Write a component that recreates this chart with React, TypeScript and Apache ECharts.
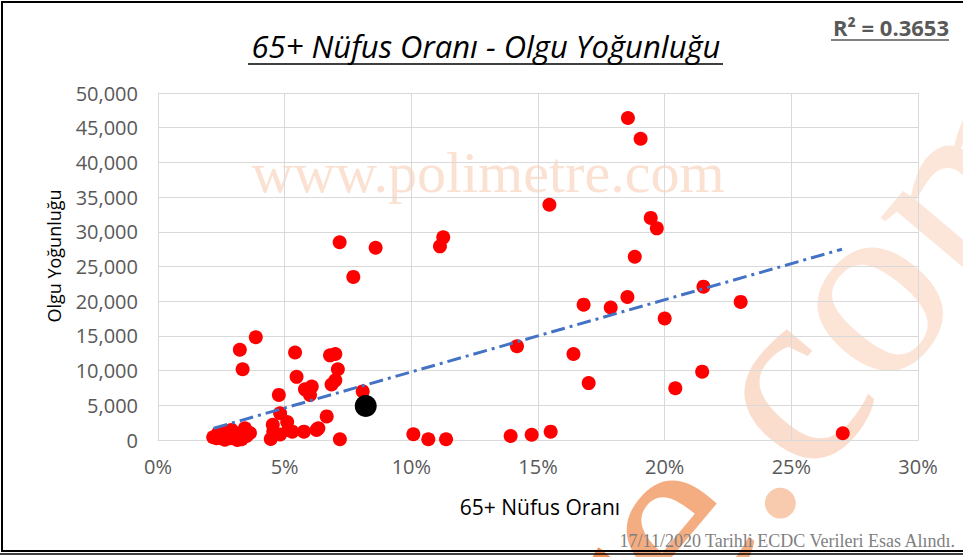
import React, { useEffect, useRef } from "react";
import * as echarts from "echarts";

// 65+ population share (%) of each country
const pointsX = [
  18.55, 19.05, 15.45, 19.45, 19.69, 18.82, 11.26, 11.13, 7.17, 8.59, 7.71,
  3.23, 3.86, 5.41, 6.79, 7.0, 17.87, 18.53, 16.8, 20.0, 21.53, 23.0, 21.48,
  20.42, 27.03, 16.4, 17.0, 14.17, 10.08, 10.67, 11.37, 13.92, 14.75, 15.5,
  3.34, 5.47, 7.1, 7.0, 6.85, 5.8, 6.07, 6.0, 8.08, 4.77, 4.82, 5.1, 5.15,
  4.53, 4.55, 4.45, 4.82, 5.3, 5.76, 6.26, 6.66, 6.33, 7.18,
  2.18, 2.38, 2.5, 2.71, 2.84, 3.04, 3.13, 3.24, 3.43, 3.5, 3.63, 2.9, 2.31,
  3.3, 2.64,
];
// case density of each country
const pointsY = [
  46400, 43400, 33900, 32000, 30500, 26400, 29200, 27900, 28500, 27700, 23500,
  13000, 14800, 12600, 12200, 12400, 19100, 20600, 19500, 17500, 22100, 19900,
  9850, 7450, 970, 12400, 8200, 13500, 820, 100, 100, 580, 760, 1200,
  10200, 9100, 10200, 8600, 8000, 7300, 7700, 6500, 7000, 6500, 3850, 2600,
  1450, 2200, 1200, 150, 800, 1200, 1200, 1450, 3400, 1700, 100,
  400, 1000, 250, 1200, 250, 1000, 0, 700, 1700, 600, 1000, 1450, 250,
  100, 50,
];
// highlighted country (Türkiye)
const highlightX = [8.2];
const highlightY = [4900];
// linear trend line
const trendX = [2.2, 27.0];
const trendSlope = 1040;
const trendIntercept = -590;
const rSquared = "0.3653";

const titleText = "65+ Nüfus Oranı - Olgu Yoğunluğu";
const xName = "65+ Nüfus Oranı";
const yName = "Olgu Yoğunluğu";
const footerText = "17/11/2020 Tarihli ECDC Verileri Esas Alındı.";
const watermark = "www.polimetre.com";
const bigWatermarkLetters = ["t", "r", "e", ".", "c", "o", "m"];

const FONT = "'Open Sans', 'Noto Sans', sans-serif";

// big diagonal watermark: letter centre anchors and tints (style only)
const bigLetterPos = [
  [525, 689, "rgba(238,125,60,0.85)"],
  [571, 634, "rgba(238,125,60,0.85)"],
  [627, 567, "rgba(240,140,80,0.72)"],
  [701, 479, "rgba(243,160,110,0.55)"],
  [743, 429, "rgba(245,175,135,0.42)"],
  [817, 341, "rgba(246,185,150,0.38)"],
  [901, 242, "rgba(246,185,150,0.36)"],
];

export default function App() {
  const ref = useRef<HTMLDivElement>(null);
  useEffect(() => {
    if (!ref.current) return;
    const chart = echarts.init(ref.current, undefined, { renderer: "svg" });
    const scatterData = pointsX.map((x, i) => [x, pointsY[i]]);
    const hlData = highlightX.map((x, i) => [x, highlightY[i]]);
    const trendData = trendX.map((x) => [x, trendSlope * x + trendIntercept]);
    const rot = (50 * Math.PI) / 180;
    const bigLetters = bigWatermarkLetters.map((ch, i) => ({
      type: "text",
      z: -10,
      x: bigLetterPos[i][0] as number,
      y: bigLetterPos[i][1] as number,
      rotation: rot,
      style: {
        text: ch,
        font: "260px 'Liberation Serif', serif",
        fill: bigLetterPos[i][2] as string,
        textAlign: "left",
        textVerticalAlign: "middle",
      },
    }));
    chart.setOption({
      animation: false,
      backgroundColor: "#ffffff",
      grid: { left: 158, top: 93, width: 760, height: 347, containLabel: false },
      xAxis: {
        type: "value",
        min: 0,
        max: 30,
        interval: 5,
        axisLine: { show: true, lineStyle: { color: "#D9D9D9", width: 1 } },
        axisTick: { show: false },
        splitLine: { show: true, lineStyle: { color: "#D9D9D9", width: 1 } },
        axisLabel: {
          formatter: (v: number) => v + "%",
          color: "#595959",
          fontFamily: FONT,
          fontSize: 20,
          margin: 16,
        },
      },
      yAxis: {
        type: "value",
        min: 0,
        max: 50000,
        interval: 5000,
        axisLine: { show: true, lineStyle: { color: "#D9D9D9", width: 1 } },
        axisTick: { show: false },
        splitLine: { show: true, lineStyle: { color: "#D9D9D9", width: 1 } },
        axisLabel: {
          formatter: (v: number) => v.toLocaleString("en-US"),
          color: "#595959",
          fontFamily: FONT,
          fontSize: 20,
          margin: 20,
        },
      },
      series: [
        {
          type: "scatter",
          data: scatterData,
          symbolSize: 14,
          itemStyle: { color: "#FF0000", opacity: 1 },
          z: 3,
        },
        {
          type: "line",
          data: trendData,
          symbol: "none",
          lineStyle: { color: "#4472C4", width: 3, type: [14, 5, 3, 5] },
          z: 4,
        },
        {
          type: "scatter",
          data: hlData,
          symbolSize: 22,
          itemStyle: { color: "#000000", opacity: 1 },
          z: 5,
        },
      ],
      graphic: [
        {
          type: "text",
          z: -10,
          x: 488,
          y: 172,
          style: {
            text: watermark,
            font: "58px 'Liberation Serif', serif",
            fill: "rgba(242,170,125,0.35)",
            textAlign: "center",
            textVerticalAlign: "middle",
          },
        },
        ...bigLetters,
        {
          type: "text",
          x: 486,
          y: 46,
          style: {
            text: titleText,
            font: `italic 31px ${FONT}`,
            fill: "#000000",
            textAlign: "center",
            textVerticalAlign: "middle",
          },
        },
        {
          type: "line",
          shape: { x1: 248, y1: 64, x2: 723, y2: 64 },
          style: { stroke: "#000000", lineWidth: 1.5 },
        },
        {
          type: "text",
          x: 949,
          y: 27,
          style: {
            text: "R² = " + rSquared,
            font: `bold 22px ${FONT}`,
            fill: "#595959",
            textAlign: "right",
            textVerticalAlign: "middle",
          },
        },
        {
          type: "line",
          shape: { x1: 831, y1: 40, x2: 949, y2: 40 },
          style: { stroke: "#595959", lineWidth: 1.5 },
        },
        {
          type: "text",
          x: 54,
          y: 256,
          rotation: Math.PI / 2,
          style: {
            text: yName,
            font: `18px ${FONT}`,
            fill: "#000000",
            textAlign: "center",
            textVerticalAlign: "middle",
          },
        },
        {
          type: "text",
          x: 540,
          y: 507,
          style: {
            text: xName,
            font: `21px ${FONT}`,
            fill: "#000000",
            textAlign: "center",
            textVerticalAlign: "middle",
          },
        },
        {
          type: "text",
          x: 955,
          y: 541,
          style: {
            text: footerText,
            font: "18px 'Liberation Serif', serif",
            fill: "#7F7F7F",
            textAlign: "right",
            textVerticalAlign: "middle",
          },
        },
        {
          type: "rect",
          shape: { x: 2, y: 2, width: 990, height: 549 },
          style: { fill: "none", stroke: "#000000", lineWidth: 2 },
        },
        {
          type: "line",
          shape: { x1: 0, y1: 554, x2: 963, y2: 554 },
          style: { stroke: "#000000", lineWidth: 1.5 },
        },
      ],
    });
    return () => chart.dispose();
  }, []);
  return (
    <div
      ref={ref}
      style={{ position: "fixed", left: 0, top: 0, width: 963, height: 557 }}
    />
  );
}
